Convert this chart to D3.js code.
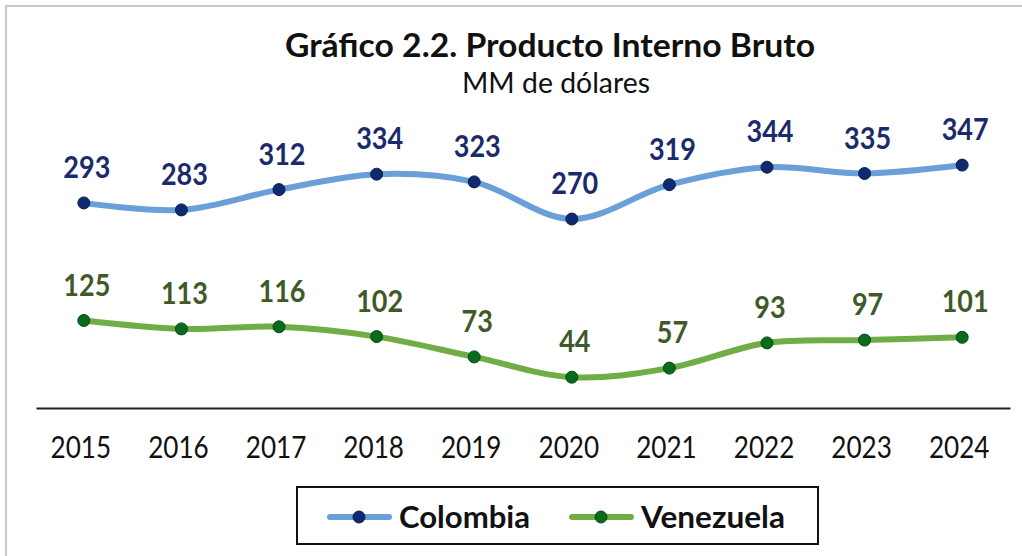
<!DOCTYPE html>
<html><head><meta charset="utf-8">
<script src="https://cdn.jsdelivr.net/npm/d3@7"></script>
<style>html,body{margin:0;padding:0;background:#fff;}svg{display:block;}</style>
</head><body>
<svg id="c" width="1022" height="556"></svg>
<script>
const years = ["2015","2016","2017","2018","2019","2020","2021","2022","2023","2024"];
const colombia = [293,283,312,334,323,270,319,344,335,347];
const venezuela = [125,113,116,102,73,44,57,93,97,101];
const seriesNames = ["Colombia","Venezuela"];
const titleText = "Gráfico 2.2. Producto Interno Bruto";
const subtitleText = "MM de dólares";

const FONT = "Lato, 'Open Sans', sans-serif";
const svg = d3.select("#c");

// outer frame (top & left edges visible)
svg.append("path").attr("d","M6,556 V6 H1022").attr("fill","none").attr("stroke","#c9c9c9").attr("stroke-width",2);

const x = d3.scalePoint().domain(years).range([36,1010]).padding(0.49);
const y = d3.scaleLinear().domain([0,400]).range([408,128]);

// axis
const ax = svg.append("g").attr("transform","translate(0,408)")
  .call(d3.axisBottom(x).tickSize(0).tickSizeOuter(0).tickPadding(41));
ax.select(".domain").attr("stroke","#222").attr("stroke-width",2);
ax.selectAll("text").attr("font-family",FONT).attr("font-size",30).attr("fill","#111")
  .attr("dx",-4).attr("dy","0.3em").attr("transform","scale(0.87,1)");

const series = [
  {name:seriesNames[0], values:colombia, line:"#6a9fd8", dot:"#0f2a6e", dotStroke:"#0a1f55", label:"#1b2a6b"},
  {name:seriesNames[1], values:venezuela, line:"#71ad47", dot:"#0b6b1d", dotStroke:"#064a12", label:"#3f5a28"}
];

const lineGen = d3.line().x((d,i)=>x(years[i])).y(d=>y(d)).curve(d3.curveCatmullRom.alpha(0.5));

series.forEach(s=>{
  const g = svg.append("g");
  g.append("path").attr("d",lineGen(s.values)).attr("fill","none").attr("stroke",s.line).attr("stroke-width",6).attr("stroke-linecap","round");
  g.selectAll("circle").data(s.values).join("circle")
    .attr("cx",(d,i)=>x(years[i])).attr("cy",d=>y(d)).attr("r",6)
    .attr("fill",s.dot).attr("stroke",s.dotStroke).attr("stroke-width",1);
  g.selectAll("g.lbl").data(s.values).join("g").attr("class","lbl")
    .attr("transform",(d,i)=>`translate(${x(years[i])+3},${y(d)-25})`)
    .append("text").attr("transform","scale(0.9,1)")
    .attr("text-anchor","middle").attr("font-family",FONT).attr("font-weight",700)
    .attr("font-size",30).attr("fill",s.label).text(d=>d);
});

// title
svg.append("text").attr("x",550).attr("y",57).attr("text-anchor","middle")
  .attr("font-family",FONT).attr("font-weight",700).attr("font-size",33).attr("fill","#111")
  .attr("textLength",530).attr("lengthAdjust","spacingAndGlyphs").text(titleText);
svg.append("text").attr("x",556).attr("y",93).attr("text-anchor","middle")
  .attr("font-family",FONT).attr("font-size",28).attr("fill","#111")
  .attr("textLength",188).attr("lengthAdjust","spacingAndGlyphs").text(subtitleText);

// legend
const lg = svg.append("g");
lg.append("rect").attr("x",297).attr("y",487).attr("width",521).attr("height",57)
  .attr("fill","#fff").attr("stroke","#111").attr("stroke-width",2);
const legX = [330, 572];
const legW = [131, 144];
series.forEach((s,i)=>{
  const gx = legX[i];
  lg.append("line").attr("x1",gx).attr("x2",gx+59).attr("y1",517).attr("y2",517).attr("stroke",s.line).attr("stroke-width",6).attr("stroke-linecap","round");
  lg.append("circle").attr("cx",gx+29).attr("cy",517).attr("r",6).attr("fill",s.dot).attr("stroke",s.dotStroke);
  lg.append("text").attr("x",gx+69).attr("y",528).attr("font-family",FONT).attr("font-weight",700)
    .attr("font-size",31).attr("fill","#111")
    .attr("textLength",legW[i]).attr("lengthAdjust","spacingAndGlyphs").text(s.name);
});
</script>
</body></html>
